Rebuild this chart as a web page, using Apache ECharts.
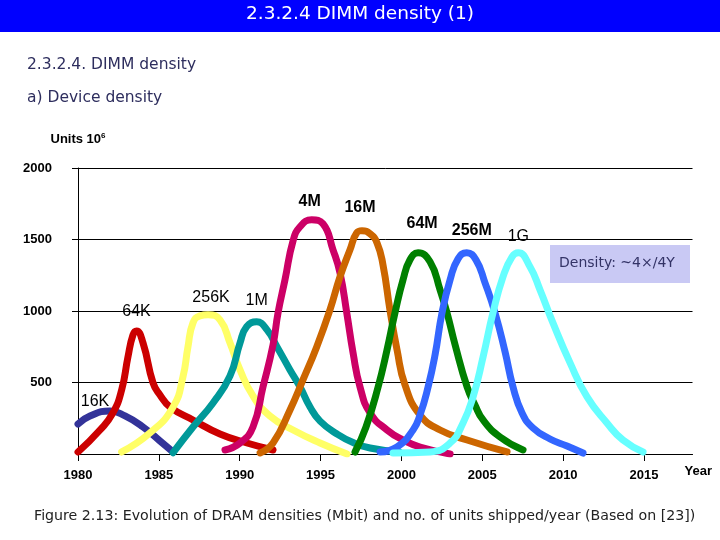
<!DOCTYPE html>
<html>
<head>
<meta charset="utf-8">
<script src="https://cdn.jsdelivr.net/npm/echarts@6/dist/echarts.min.js"></script>
<style>
  html, body { margin: 0; padding: 0; background: #ffffff; }
  #chart { width: 720px; height: 540px; }
</style>
</head>
<body>
<div id="chart"></div>
<script>
// ---- data (year, units in 10^6 / year) ----
const densityNames = ['16K', '64K', '256K', '1M', '4M', '16M', '64M', '256M', '1G'];
const xTickYears = [1980, 1985, 1990, 1995, 2000, 2005, 2010, 2015];
const yTickValues = [500, 1000, 1500, 2000];

const units16K = [[1980.0,210],[1980.74,266],[1981.98,301],[1982.91,266],[1984.02,189],[1985.07,91],[1985.88,14]];
const units64K = [[1980.0,14],[1981.36,168],[1982.16,287],[1982.70,448],[1983.09,679],[1983.40,833],[1983.62,861],[1984.02,777],[1984.64,497],[1985.07,413],[1985.69,329],[1987.11,238],[1988.78,140],[1990.45,77],[1992.06,28]];
const units256K = [[1982.70,14],[1984.45,147],[1985.88,329],[1986.49,539],[1986.80,749],[1987.11,917],[1987.54,966],[1988.04,973],[1988.78,938],[1989.40,777],[1990.02,588],[1990.82,406],[1991.87,266],[1993.30,168],[1994.97,77],[1996.64,0]];
const units1M = [[1985.88,9],[1987.11,189],[1988.35,357],[1989.40,546],[1990.02,777],[1990.43,891],[1991.05,924],[1991.69,868],[1992.31,749],[1993.11,588],[1993.73,469],[1994.35,329],[1994.97,230],[1996.02,140],[1997.01,80],[1998.06,42],[1999.85,14]];
const units4M = [[1989.09,28],[1990.02,77],[1990.82,189],[1991.44,469],[1992.06,763],[1992.37,987],[1992.80,1218],[1993.30,1491],[1993.73,1589],[1994.45,1638],[1995.15,1610],[1995.77,1428],[1996.20,1267],[1996.62,987],[1997.01,707],[1997.44,469],[1998.06,287],[1999.11,168],[2000.10,98],[2001.15,49],[2003.01,0]];
const units16M = [[1991.26,7],[1992.06,77],[1993.11,308],[1993.91,518],[1994.76,749],[1995.58,1008],[1996.20,1239],[1996.82,1428],[1997.24,1547],[1997.56,1561],[1998.06,1540],[1998.49,1477],[1998.86,1323],[1999.29,1008],[1999.73,728],[2000.22,483],[2001.15,273],[2002.39,168],[2004.06,98],[2006.53,14]];
const units64M = [[1997.13,14],[1997.81,189],[1998.56,469],[1999.11,728],[1999.60,987],[2000.10,1218],[2000.53,1358],[2001.03,1407],[2001.77,1344],[2002.39,1148],[2002.82,987],[2003.32,763],[2004.06,469],[2004.55,343],[2005.05,238],[2006.10,119],[2007.52,28]];
const units256M = [[1998.68,14],[1999.73,49],[2000.72,168],[2001.15,273],[2001.65,469],[2002.08,693],[2002.51,987],[2003.01,1218],[2003.50,1365],[2004.04,1407],[2004.61,1358],[2005.17,1197],[2005.79,987],[2006.41,714],[2006.90,469],[2007.46,287],[2008.14,182],[2009.19,105],[2010.24,56],[2011.23,7]];
const units1G = [[1999.48,7],[2001.77,14],[2003.01,77],[2003.81,217],[2004.43,399],[2005.05,679],[2005.66,987],[2006.28,1239],[2006.84,1379],[2007.23,1407],[2007.95,1309],[2008.57,1148],[2009.37,917],[2010.43,637],[2011.48,399],[2012.71,217],[2013.70,98],[2014.94,14]];

const seriesData = [units16K, units64K, units256K, units1M, units4M, units16M, units64M, units256M, units1G];

// ---- styles ----
const lineColors = ['#333399', '#cc0000', '#ffff66', '#009999', '#cc0066', '#cc6600', '#008000', '#3366ff', '#66ffff'];
const labelOffsets = [[-15,-9],[0,-19],[3,-17],[0,-21],[-2,-18],[-2,-23],[4,-29],[5,-22],[0,-16]];
const labelWeights = ['normal', 'normal', 'normal', 'normal', 'bold', 'bold', 'bold', 'bold', 'normal'];

const axisFont = { fontFamily: 'Liberation Sans, Arial, sans-serif', fontWeight: 'bold', fontSize: 13, color: '#000' };
const slideFont = 'DejaVu Sans, Verdana, sans-serif';

const chart = echarts.init(document.getElementById('chart'), null, { renderer: 'canvas' });

const series = seriesData.map((d, i) => ({
  name: densityNames[i],
  type: 'line',
  data: d,
  smooth: 0.5,
  showSymbol: false,
  symbol: 'none',
  lineStyle: { color: lineColors[i], width: 7, cap: 'round', join: 'round' },
  itemStyle: { color: lineColors[i] },
  markPoint: {
    symbol: 'circle',
    symbolSize: 0,
    silent: true,
    data: [{ type: 'max', valueDim: 'y' }],
    label: {
      show: true,
      position: 'inside',
      offset: labelOffsets[i],
      formatter: densityNames[i],
      fontFamily: 'Liberation Sans, Arial, sans-serif',
      fontWeight: labelWeights[i],
      fontSize: 16,
      color: '#000'
    }
  }
}));

chart.setOption({
  animation: false,
  backgroundColor: '#ffffff',
  grid: { left: 78, right: 27.5, top: 168, bottom: 86, containLabel: false },
  xAxis: {
    type: 'value',
    min: 1980,
    max: 2018,
    interval: 5,
    name: 'Year',
    nameLocation: 'end',
    nameGap: -8,
    nameTextStyle: { fontFamily: 'Liberation Sans, Arial, sans-serif', fontWeight: 'bold', fontSize: 13, color: '#000', verticalAlign: 'top', padding: [11, 0, 0, 0] },
    axisLine: { show: true, lineStyle: { color: '#000', width: 1 } },
    axisTick: { show: true, length: 7, inside: false, lineStyle: { color: '#000' }, customValues: xTickYears },
    axisLabel: Object.assign({ margin: 15, customValues: xTickYears, formatter: v => (v % 5 === 0 ? String(v) : '') }, axisFont),
    splitLine: { show: false }
  },
  yAxis: {
    type: 'value',
    min: 0,
    max: 2000,
    interval: 500,
    name: 'Units 10{sup|6}',
    nameLocation: 'end',
    nameGap: 21,
    nameTextStyle: {
      fontFamily: 'Liberation Sans, Arial, sans-serif', fontWeight: 'bold', fontSize: 13, color: '#000',
      rich: { sup: { fontFamily: 'Liberation Sans, Arial, sans-serif', fontSize: 8, fontWeight: 'bold', color: '#000', padding: [0, 0, 7, 0] } }
    },
    axisLine: { show: true, lineStyle: { color: '#000', width: 1 } },
    axisTick: { show: true, length: 6, lineStyle: { color: '#000' } },
    axisLabel: Object.assign({ margin: 26, showMinLabel: false, formatter: v => (yTickValues.indexOf(v) >= 0 ? String(v) : '') }, axisFont),
    splitLine: { show: true, lineStyle: { color: '#000', width: 1, type: 'solid' } }
  },
  graphic: [
    { type: 'rect', left: 0, top: 0, shape: { width: 720, height: 32 }, style: { fill: '#0000ff' }, z: 0 },
    { type: 'text', left: 'center', top: 5, style: { text: '2.3.2.4 DIMM density (1)', fill: '#ffffff', font: '18.5px ' + slideFont } },
    { type: 'text', left: 27, top: 57, style: { text: '2.3.2.4. DIMM density', fill: '#2e2e5e', font: '15.5px ' + slideFont } },
    { type: 'text', left: 27, top: 90, style: { text: 'a) Device density', fill: '#2e2e5e', font: '15.5px ' + slideFont } },
    { type: 'rect', left: 550, top: 245, shape: { width: 140, height: 38 }, style: { fill: '#c9c9f4' }, z: 10 },
    { type: 'text', left: 559, top: 256, style: { text: 'Density: ~4×/4Y', fill: '#333366', font: '14px ' + slideFont }, z: 11 },
    { type: 'text', left: 34, top: 509, style: { text: 'Figure 2.13: Evolution of DRAM densities (Mbit) and no. of units shipped/year (Based on [23])', fill: '#222222', font: '14.2px ' + slideFont } }
  ],
  series: series
});
</script>
</body>
</html>
